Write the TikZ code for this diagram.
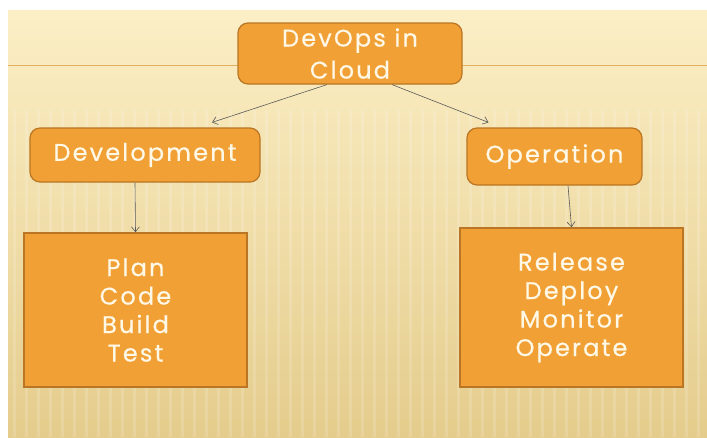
\documentclass[tikz,border=0pt]{standalone}
\usepackage{fontspec}
\setmainfont{Poppins}[LetterSpace=9, FakeBold=0.6]
\usetikzlibrary{positioning,arrows.meta}

\definecolor{boxorange}{RGB}{240,160,52}
\definecolor{boxedge}{RGB}{186,118,36}
\definecolor{paper}{RGB}{252,239,198}
\definecolor{paperdark}{RGB}{228,204,140}
\definecolor{ruleline}{RGB}{222,176,96}
\definecolor{boxtext}{RGB}{255,248,230}

\begin{document}
\begin{tikzpicture}[
  x=1pt, y=-1pt,
  >={Straight Barb[length=5pt,width=8pt]},
  font=\fontsize{24}{28.5}\selectfont,
  topic/.style={draw=boxedge, line width=1.2pt, rounded corners=10pt, fill=boxorange, text=boxtext, align=center, inner sep=0pt},
  tasks/.style={draw=boxedge, line width=1.5pt, fill=boxorange, text=boxtext, align=center, inner sep=0pt},
  rel/.style={->, draw=black!65, line width=0.6pt}
]
\useasboundingbox (0,0) rectangle (707,437);

% Slide background
\shade[top color=paper, bottom color=paperdark] (8,10) rectangle (707,437);
\foreach \sx in {14,26,...,700}
  \draw[white, opacity=0.15, line width=3pt] (\sx,110) -- (\sx,437);
\draw[ruleline, line width=1pt] (8,65) -- (707,65);

% Top level
\node[topic, minimum width=224pt, minimum height=61pt, font=\fontsize{24}{32}\selectfont] (cloud) at (350,53.5) {DevOps in\\Cloud};

% Second level
\node[topic, minimum width=230pt, minimum height=54pt] (dev) at (145,155) {Development};
\node[topic, minimum width=175pt, minimum height=57pt] (ops) at (554.5,156.5) {Operation};

% Task lists
\node[tasks, minimum width=223pt, minimum height=154pt] (devtasks) at (135.5,310) {Plan\\Code\\Build\\Test};
\node[tasks, minimum width=223pt, minimum height=159pt] (opstasks) at (571.5,307.5) {Release\\Deploy\\Monitor\\Operate};

% Connectors
\draw[rel] ([xshift=-23pt]cloud.south) -- ([xshift=67pt,yshift=5pt]dev.north);
\draw[rel] ([xshift=42pt]cloud.south) -- ([xshift=-66pt,yshift=5pt]ops.north);
\draw[rel] ([xshift=-10pt]dev.south) -- (devtasks.north);
\draw[rel] ([xshift=13.5pt]ops.south) -- (opstasks.north);

\end{tikzpicture}
\end{document}
